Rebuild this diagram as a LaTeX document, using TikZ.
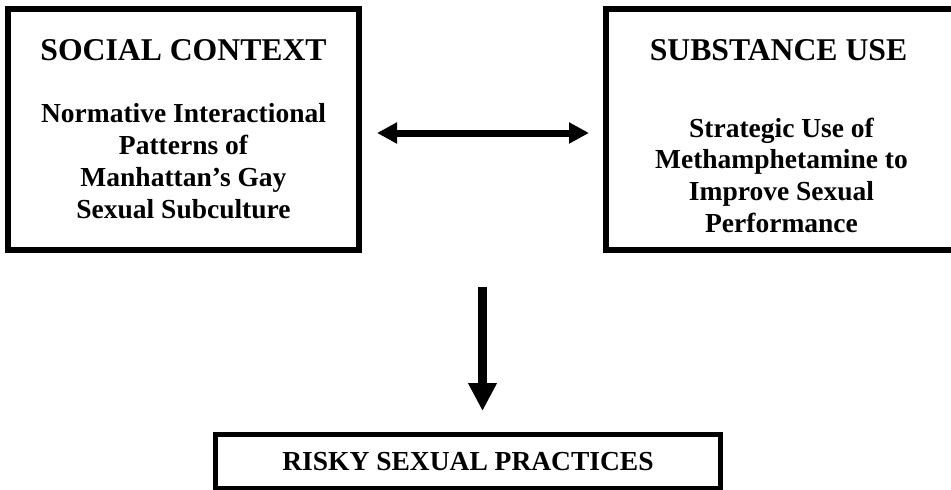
\documentclass[tikz,border=0pt]{standalone}
\usepackage{fontspec}
\setmainfont{Liberation Serif}
\usetikzlibrary{positioning,calc,arrows.meta}

\begin{document}
\begin{tikzpicture}[x=1pt,y=-1pt,
                    panel/.style={draw,line width=5.5pt,outer sep=0pt,
                                  minimum width=351pt,minimum height=241pt},
                    heading/.style={inner sep=0pt,font=\bfseries\fontsize{31.7}{36}\selectfont},
                    body/.style={inner sep=0pt,align=center,
                                 font=\bfseries\fontsize{27.5}{31.7}\selectfont},
                    link/.style={line width=7pt,
                                 {Triangle[length=20pt,width=20pt]}-{Triangle[length=20pt,width=20pt]}},
                    lead/.style={line width=9pt,-{Triangle[length=28pt,width=27pt]}}]
  \clip (0,0) rectangle (951,490);
  \node[panel] (social) at (183.5,129.5) {};
  \node[panel,right=247pt of social] (substance) {};
  \node[heading,below=30pt of social.north] (socialhead) {SOCIAL CONTEXT};
  \node[body,below=43pt of socialhead] (socialbody)
    {Normative Interactional\\Patterns of\\Manhattan’s Gay\\Sexual Subculture};
  \node[heading,below=30pt of substance.north,xshift=-3pt] (substancehead) {SUBSTANCE USE};
  \node[body,below=57pt of substancehead,xshift=3pt] (substancebody)
    {Strategic Use of\\Methamphetamine to\\Improve Sexual\\Performance};
  % The outcome box sits below, slightly left of the fork.
  \node[draw,line width=5pt,outer sep=0pt,minimum width=505pt,minimum height=53.5pt,
        font=\bfseries\fontsize{27.5}{31}\selectfont] (risky) at (468,461.25)
    {RISKY SEXUAL PRACTICES};
  \draw[link,shorten <=18pt,shorten >=17pt]
    ([yshift=-3.5pt]social.east) -- ([yshift=-3.5pt]substance.west);
  \coordinate (fork) at ($(social.south)!0.5!(substance.south)$);
  \draw[lead,shorten <=37pt,shorten >=23.5pt] (fork) -- (fork |- risky.north);
\end{tikzpicture}
\end{document}
